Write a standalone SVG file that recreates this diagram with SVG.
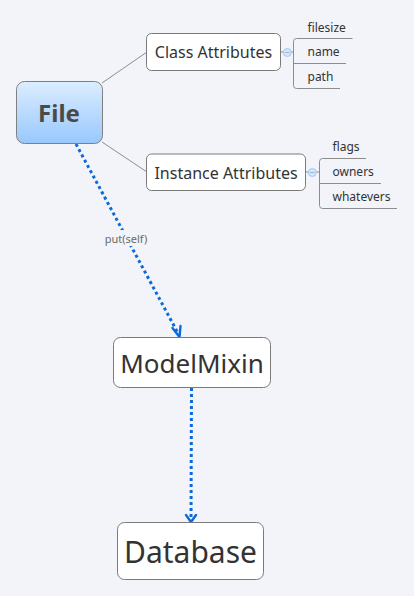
<svg xmlns="http://www.w3.org/2000/svg" width="414" height="596" viewBox="0 0 414 596">
<style>
.node{fill:#ffffff;stroke:#7a7a7a;stroke-width:1}
.t{font-family:"Noto Sans","Open Sans",sans-serif;fill:#333333}
.link{stroke:#8c8c8c;stroke-width:1;fill:none}
.br{stroke:#8c8c8c;stroke-width:1;fill:none}
.dot{stroke:#0a6ad8;stroke-width:3;stroke-dasharray:3 3;fill:none}
.col{fill:#d4e4fb;stroke:#a9c6f0;stroke-width:1}
</style>
<defs>
<linearGradient id="g" x1="0" y1="0" x2="0" y2="1">
<stop offset="0" stop-color="#dcedff"/>
<stop offset="1" stop-color="#98c8fd"/>
</linearGradient>
<marker id="arr" markerWidth="14" markerHeight="14" refX="7" refY="11" orient="auto" markerUnits="userSpaceOnUse" viewBox="0 0 14 14">
<path d="M2,4 L7,11 L12,4" fill="none" stroke="#0a6ad8" stroke-width="2.4" stroke-linecap="round" stroke-linejoin="round" transform="rotate(-90 7 11) translate(0 0)"/>
</marker>
</defs>
<rect width="414" height="596" fill="#f2f4f9"/>
<g id="connectors">
<line class="link" x1="102" y1="83" x2="147" y2="52"/>
<line class="link" x1="102" y1="142" x2="147" y2="172"/>
<line class="link" x1="281" y1="52" x2="293" y2="52"/>
<line class="link" x1="306" y1="172" x2="319" y2="172"/>
<path class="dot" d="M76,144 L179.5,336"/>
<path d="M172.5,328 L179.5,337 L180.5,326" fill="none" stroke="#0a6ad8" stroke-width="2.4" stroke-linecap="round" stroke-linejoin="round"/>
<path class="dot" d="M191.5,388 L191,521"/>
<path d="M186,515 L191,522 L196,515" fill="none" stroke="#0a6ad8" stroke-width="2.4" stroke-linecap="round" stroke-linejoin="round"/>
<rect x="103" y="230" width="46" height="16" fill="#f2f4f9"/>
<text class="t" x="126" y="242.5" font-size="11" text-anchor="middle" style="fill:#6b6b6b">put(self)</text>
</g>
<g id="file">
<rect x="16.5" y="81.5" width="86" height="62" rx="8" fill="url(#g)" stroke="#808080"/>
<text class="t" x="59" y="122" font-size="24" font-weight="bold" text-anchor="middle" style="fill:#4a4a4a">File</text>
</g>
<g id="class-attributes">
<rect class="node" x="146.5" y="33.5" width="134" height="37" rx="5"/>
<text class="t" x="213.5" y="58" font-size="16" text-anchor="middle">Class Attributes</text>
<circle class="col" cx="287.3" cy="52.5" r="4"/>
<line x1="285" y1="52.5" x2="289.6" y2="52.5" stroke="#9ab8e6" stroke-width="1"/>
<path class="br" d="M352.5,38.5 H296.5 Q293.5,38.5 293.5,41.5 V85.5 Q293.5,88.5 296.5,88.5 H340"/>
<line class="br" x1="293.5" y1="63.5" x2="346" y2="63.5"/>
</g>
<g id="filesize"><text class="t" x="307.5" y="31.5" font-size="12">filesize</text></g>
<g id="name"><text class="t" x="307.5" y="56" font-size="12">name</text></g>
<g id="path"><text class="t" x="307.5" y="80.5" font-size="12">path</text></g>
<g id="instance-attributes">
<rect class="node" x="146.5" y="154" width="159" height="36.5" rx="5"/>
<text class="t" x="226" y="178.5" font-size="16" text-anchor="middle">Instance Attributes</text>
<circle class="col" cx="312.3" cy="172.5" r="4"/>
<line x1="310" y1="172.5" x2="314.6" y2="172.5" stroke="#9ab8e6" stroke-width="1"/>
<path class="br" d="M366,158.5 H322.5 Q319.5,158.5 319.5,161.5 V205.5 Q319.5,208.5 322.5,208.5 H397"/>
<line class="br" x1="319.5" y1="183.5" x2="381" y2="183.5"/>
</g>
<g id="flags"><text class="t" x="332.5" y="151" font-size="12">flags</text></g>
<g id="owners"><text class="t" x="332.5" y="176" font-size="12">owners</text></g>
<g id="whatevers"><text class="t" x="332.5" y="201" font-size="12">whatevers</text></g>
<g id="modelmixin">
<rect class="node" x="113.5" y="337.5" width="157" height="50" rx="7"/>
<text class="t" x="192" y="372.5" font-size="26" text-anchor="middle">ModelMixin</text>
</g>
<g id="database">
<rect class="node" x="117.5" y="522.5" width="146" height="57" rx="7"/>
<text class="t" x="190.5" y="562.5" font-size="30" text-anchor="middle">Database</text>
</g>
</svg>
